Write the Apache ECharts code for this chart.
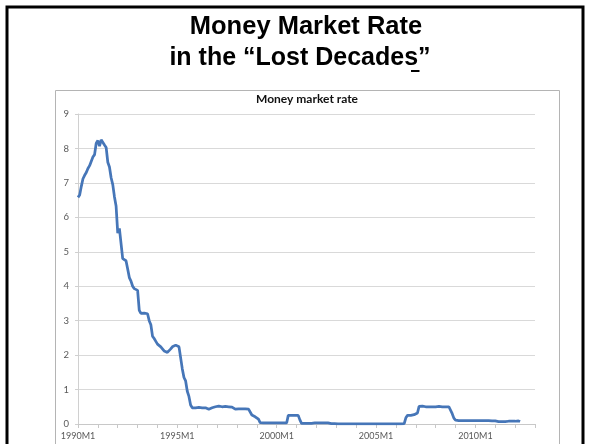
<!DOCTYPE html>
<html>
<head>
<meta charset="utf-8">
<script src="https://cdn.jsdelivr.net/npm/echarts@6/dist/echarts.min.js"></script>
<style>
html,body{margin:0;padding:0;background:#fff;}
#c{width:592px;height:444px;}
</style>
</head>
<body>
<div id="c"></div>
<script>
// Monthly money market rate (%)
const rate1990 = [6.58, 6.65, 6.9, 7.12, 7.22, 7.3, 7.42, 7.5, 7.55, 7.75, 7.82, 8.15];
const rate1991 = [8.23, 8.07, 8.25, 8.24, 8.1, 8.03, 7.6, 7.46, 7.15, 6.95, 6.6, 6.33];
const rate1992 = [5.54, 5.68, 5.66, 4.8, 4.76, 4.74, 4.5, 4.25, 4.15, 4.0, 3.93, 3.9];
const rate1993 = [3.88, 3.3, 3.21, 3.19, 3.22, 3.25, 3.2, 3.0, 2.88, 2.55, 2.48, 2.4];
const rate1994 = [2.32, 2.27, 2.24, 2.2, 2.12, 2.07, 2.08, 2.12, 2.18, 2.24, 2.28, 2.29];
const rate1995 = [2.27, 2.24, 2.2, 1.6, 1.35, 1.25, 0.95, 0.8, 0.55, 0.47, 0.47, 0.47];
const rate1996 = [0.47, 0.48, 0.47, 0.47, 0.48, 0.47, 0.46, 0.43, 0.45, 0.47, 0.5, 0.5];
const rate1997 = [0.51, 0.52, 0.5, 0.5, 0.5, 0.51, 0.5, 0.5, 0.5, 0.49, 0.48, 0.43];
const rate1998 = [0.43, 0.44, 0.43, 0.44, 0.43, 0.44, 0.43, 0.43, 0.38, 0.26, 0.23, 0.21];
const rate1999 = [0.2, 0.14, 0.04, 0.03, 0.03, 0.03, 0.03, 0.03, 0.03, 0.03, 0.03, 0.03];
const rate2000 = [0.03, 0.03, 0.03, 0.03, 0.03, 0.03, 0.03, 0.25, 0.25, 0.25, 0.25, 0.25];
const rate2001 = [0.25, 0.25, 0.12, 0.02, 0.02, 0.02, 0.02, 0.02, 0.02, 0.02, 0.02, 0.03];
const rate2002 = [0.03, 0.03, 0.03, 0.03, 0.03, 0.03, 0.03, 0.03, 0.02, 0.01, 0.01, 0.01];
const rate2003 = [0.005, 0.005, 0.005, 0.005, 0.005, 0.005, 0.005, 0.005, 0.005, 0.005, 0.005, 0.005];
const rate2004 = [0.005, 0.005, 0.005, 0.005, 0.005, 0.005, 0.005, 0.005, 0.005, 0.005, 0.005, 0.005];
const rate2005 = [0.005, 0.005, 0.005, 0.005, 0.005, 0.005, 0.005, 0.005, 0.005, 0.005, 0.005, 0.005];
const rate2006 = [0.005, 0.005, 0.005, 0.005, 0.005, 0.01, 0.18, 0.25, 0.25, 0.25, 0.26, 0.27];
const rate2007 = [0.27, 0.32, 0.51, 0.51, 0.52, 0.51, 0.5, 0.49, 0.5, 0.51, 0.5, 0.5];
const rate2008 = [0.5, 0.5, 0.51, 0.51, 0.5, 0.5, 0.5, 0.5, 0.5, 0.47, 0.3, 0.17];
const rate2009 = [0.11, 0.1, 0.1, 0.1, 0.1, 0.1, 0.1, 0.1, 0.1, 0.1, 0.1, 0.1];
const rate2010 = [0.1, 0.1, 0.1, 0.1, 0.1, 0.1, 0.1, 0.1, 0.1, 0.09, 0.09, 0.09];
const rate2011 = [0.09, 0.09, 0.07, 0.07, 0.07, 0.07, 0.07, 0.08, 0.08, 0.08, 0.08, 0.08];
const rate2012 = [0.08, 0.08, 0.09, 0.07];

const firstYear = 1990;
const lastYear = 2013; // axis runs to 2013M1
const yTicks = [0, 1, 2, 3, 4, 5, 6, 7, 8, 9];

const slideTitle1 = 'Money Market Rate';
const slideTitle2 = 'in the \u201cLost Decades\u201d';
const chartTitle = 'Money market rate';

const rates = [].concat(rate1990, rate1991, rate1992, rate1993, rate1994, rate1995,
  rate1996, rate1997, rate1998, rate1999, rate2000, rate2001, rate2002, rate2003,
  rate2004, rate2005, rate2006, rate2007, rate2008, rate2009, rate2010, rate2011, rate2012);

const categories = [];
for (let y = firstYear; y <= lastYear; y++) {
  for (let m = 1; m <= 12; m++) {
    if (y === lastYear && m > 1) break;
    categories.push(y + 'M' + m);
  }
}

const chart = echarts.init(document.getElementById('c'), null, {renderer: 'canvas'});
chart.setOption({
  animation: false,
  backgroundColor: '#fff',
  graphic: [
    { type: 'rect', shape: {x: 7, y: 7, width: 576, height: 460},
      style: {fill: 'none', stroke: '#000', lineWidth: 3}, z: 1 },
    { type: 'rect', shape: {x: 55.5, y: 90.5, width: 504, height: 400},
      style: {fill: 'none', stroke: '#b4b4b4', lineWidth: 1}, z: 1 },
    { type: 'text', x: 306, y: 27,
      style: {text: slideTitle1, font: 'bold 25.5px "Liberation Sans", Arial, sans-serif',
        fill: '#000', align: 'center', verticalAlign: 'middle'}, z: 2 },
    { type: 'text', x: 300, y: 58,
      style: {text: slideTitle2, font: 'bold 25px "Liberation Sans", Arial, sans-serif',
        fill: '#000', align: 'center', verticalAlign: 'middle'}, z: 2 },
    { type: 'rect', shape: {x: 411, y: 70, width: 8.5, height: 2},
      style: {fill: '#000'}, z: 2 },
    { type: 'text', x: 307, y: 99,
      style: {text: chartTitle, font: 'bold 12px Lato, "Noto Sans", sans-serif',
        fill: '#111', align: 'center', verticalAlign: 'middle'}, z: 2 }
  ],
  grid: {left: 78, right: 57, top: 114, bottom: 20, containLabel: false},
  xAxis: {
    type: 'category',
    data: categories,
    boundaryGap: false,
    axisLine: {show: true, lineStyle: {color: '#c8c8c8', width: 1}},
    axisTick: {show: true, interval: 11, length: 4, lineStyle: {color: '#c8c8c8'}},
    axisLabel: {interval: 59, color: '#595959', fontFamily: 'Lato', fontSize: 9, margin: 8},
    splitLine: {show: false}
  },
  yAxis: {
    type: 'value',
    min: yTicks[0],
    max: yTicks[yTicks.length - 1],
    interval: 1,
    axisLine: {show: true, lineStyle: {color: '#d0d0d0', width: 1}},
    axisTick: {show: true, length: 3, lineStyle: {color: '#d0d0d0'}},
    axisLabel: {color: '#595959', fontFamily: 'Lato', fontSize: 9.5, margin: 9},
    splitLine: {show: true, lineStyle: {color: '#d9d9d9', width: 1}}
  },
  series: [{
    type: 'line',
    data: rates,
    showSymbol: false,
    symbol: 'none',
    lineStyle: {color: '#4676b8', width: 2.75},
    emphasis: {disabled: true}
  }]
});
</script>
</body>
</html>
